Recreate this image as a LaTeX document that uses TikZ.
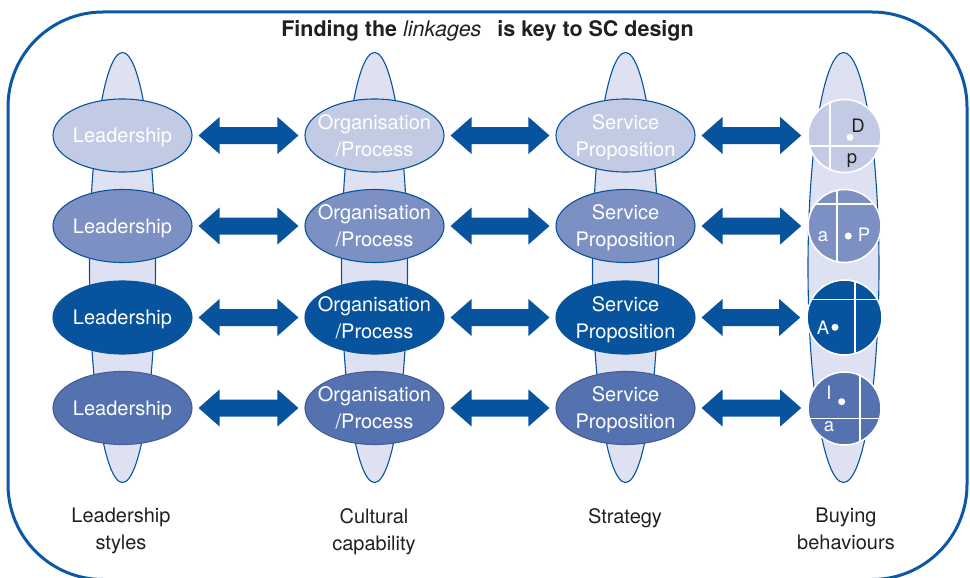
\documentclass[tikz,border=0pt]{standalone}
\usepackage{fontspec}
\setmainfont{TeX Gyre Heros}
\usetikzlibrary{shapes.geometric,calc}
\definecolor{frameblue}{RGB}{12,88,164}
\definecolor{dblue}{RGB}{8,83,158}
\definecolor{spfill}{RGB}{222,225,242}
\definecolor{rowA}{RGB}{195,203,228}
\definecolor{rowB}{RGB}{124,144,196}
\definecolor{rowD}{RGB}{84,113,176}
\definecolor{rowDline}{RGB}{72,92,150}
\definecolor{txt}{RGB}{35,31,32}
% double-headed block arrow from node #1 (east side) to node #2 (west side)
\newcommand\linkarrow[2]{%
  \fill[dblue] let \p1=($(#1.east)+(6pt,0pt)$), \p2=($(#2.west)+(-6pt,0pt)$) in
    (\x1,\y1) -- (\x1+21pt,\y1+18.5pt) -- (\x1+21pt,\y1+8.5pt) -- (\x2-21pt,\y1+8.5pt)
    -- (\x2-21pt,\y1+18.5pt) -- (\x2,\y1) -- (\x2-21pt,\y1-18.5pt) -- (\x2-21pt,\y1-8.5pt)
    -- (\x1+21pt,\y1-8.5pt) -- (\x1+21pt,\y1-18.5pt) -- cycle;}
\begin{document}
\begin{tikzpicture}[x=1pt,y=-1pt,
  spindle/.style={ellipse, draw=dblue, line width=1.1pt, fill=spfill, minimum width=66pt, minimum height=430pt, inner sep=0pt},
  oval/.style={ellipse, draw=dblue, line width=1.1pt, minimum width=139pt, minimum height=73pt, inner sep=0pt},
  ovaltext/.style={text=white, align=center, font=\fontsize{20}{27}\selectfont, inner sep=0pt, text depth=0pt},
  disc/.style={circle, draw=white, line width=1.6pt, minimum size=73pt, inner sep=0pt},
  quad/.style={white, line width=1.6pt},
  letter/.style={font=\fontsize{18.5}{18.5}\selectfont, inner sep=0pt, anchor=base},
  dotmark/.style={circle, fill=white, minimum size=7pt, inner sep=0pt},
  caption/.style={font=\fontsize{20}{27}\selectfont, text=txt, align=center, anchor=north, inner sep=0pt},
]
\useasboundingbox (0,0) rectangle (970,578);
\clip (0,0) rectangle (970,578);

% outer frame
\draw[frameblue, line width=3pt, rounded corners=95pt] (8,12) rectangle (967,579.5);

% title
\node[font=\fontsize{21.5}{21.5}\selectfont\bfseries, text=txt, anchor=base, inner sep=0pt] (title) at (487.5,36.5)
  {Finding the {\mdseries\itshape linkages}\hspace{16pt}is key to SC design};

% spindles
\node[spindle] (s1) at (122.5,267.5) {};
\node[spindle] (s2) at (374.5,267.5) {};
\node[spindle] (s3) at (625.5,267.5) {};
\node[spindle, minimum width=71pt] (s4) at (843.5,267.5) {};

% ovals column 1
\node[oval, fill=rowA, label={[ovaltext]center:Leadership}] (l1) at (122.5,135.5) {};
\node[oval, fill=rowB, label={[ovaltext]center:Leadership}] (l2) at (122.5,226) {};
\node[oval, fill=dblue, label={[ovaltext]center:Leadership}] (l3) at (122.5,317.5) {};
\node[oval, fill=rowD, draw=rowDline, label={[ovaltext]center:Leadership}] (l4) at (122.5,408) {};
% column 2
\node[oval, fill=rowA, label={[ovaltext]center:Organisation\\/Process}] (o1) at (374.5,135.5) {};
\node[oval, fill=rowB, label={[ovaltext]center:Organisation\\/Process}] (o2) at (374.5,226) {};
\node[oval, fill=dblue, label={[ovaltext]center:Organisation\\/Process}] (o3) at (374.5,317.5) {};
\node[oval, fill=rowD, draw=rowDline, label={[ovaltext]center:Organisation\\/Process}] (o4) at (374.5,408) {};
% column 3
\node[oval, fill=rowA, label={[ovaltext]center:Service\\Proposition}] (p1) at (625.5,135.5) {};
\node[oval, fill=rowB, label={[ovaltext]center:Service\\Proposition}] (p2) at (625.5,226) {};
\node[oval, fill=dblue, label={[ovaltext]center:Service\\Proposition}] (p3) at (625.5,317.5) {};
\node[oval, fill=rowD, draw=rowDline, label={[ovaltext]center:Service\\Proposition}] (p4) at (625.5,408) {};
% column 4 discs
\node[disc, fill=rowA] (b1) at (844.5,136) {};
\node[disc, fill=rowB] (b2) at (844.5,226) {};
\node[disc, fill=dblue, minimum size=75pt] (b3) at (844.5,317.5) {};
\node[disc, fill=rowD] (b4) at (844.5,408.5) {};

% quadrant lines
\begin{scope}
  \clip (b1.center) circle[radius=36.5pt];
  \draw[quad] (830,90) -- (830,185) (800,146) -- (890,146);
\end{scope}
\begin{scope}
  \clip (b2.center) circle[radius=36.5pt];
  \draw[quad] (836.7,180) -- (836.7,275) (800,204) -- (890,204);
\end{scope}
\begin{scope}
  \clip (b3.center) circle[radius=37.5pt];
  \draw[quad] (855,270) -- (855,365) (800,299.3) -- (890,299.3);
\end{scope}
\begin{scope}
  \clip (b4.center) circle[radius=36.5pt];
  \draw[quad] (860,360) -- (860,455) (800,418.3) -- (890,418.3);
\end{scope}

% letters and dots
\node[letter, text=txt] (tD) at (858,132.7) {D};
\node[letter, text=txt] (tp) at (852,163.5) {p};
\node[dotmark] (d1) at (850,137.3) {};
\node[letter, text=white] (ta2) at (823,241) {a};
\node[letter, text=white] (tP) at (864,241) {P};
\node[dotmark] (d2) at (848.3,236) {};
\node[letter, text=white] (tA) at (823,334) {A};
\node[dotmark] (d3) at (835,327.3) {};
\node[letter, text=white] (tI) at (829,399) {I};
\node[letter, text=white] (ta4) at (829,431) {a};
\node[dotmark] (d4) at (841.7,401.7) {};

% arrows
\linkarrow{l1}{o1}
\linkarrow{l2}{o2}
\linkarrow{l3}{o3}
\linkarrow{l4}{o4}
\linkarrow{o1}{p1}
\linkarrow{o2}{p2}
\linkarrow{o3}{p3}
\linkarrow{o4}{p4}
\linkarrow{p1}{b1}
\linkarrow{p2}{b2}
\linkarrow{p3}{b3}
\linkarrow{p4}{b4}

% captions
\node[caption] (c1) at (121,508) {Leadership\\styles};
\node[caption] (c2) at (374,508) {Cultural\\capability};
\node[caption] (c3) at (625,508) {Strategy};
\node[caption] (c4) at (846,508) {Buying\\behaviours};
\end{tikzpicture}
\end{document}
